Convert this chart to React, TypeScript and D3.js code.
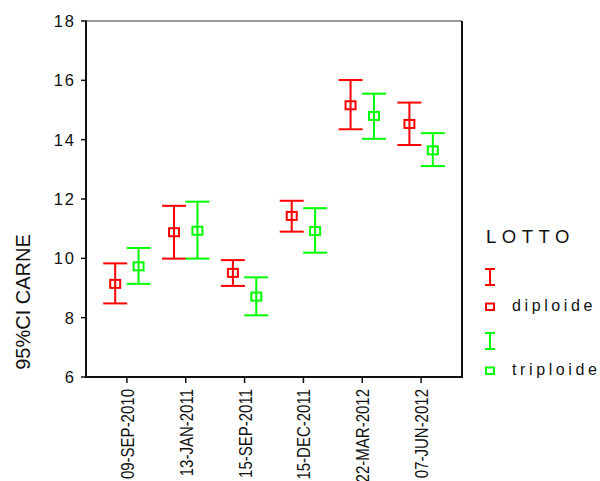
import React from "react";
import * as d3 from "d3";

const categories = ["09-SEP-2010", "13-JAN-2011", "15-SEP-2011", "15-DEC-2011", "22-MAR-2012", "07-JUN-2012"];
const seriesNames = ["diploide", "triploide"];
const seriesColors = ["#ff0000", "#00ff00"];
const diploideMean = [9.14, 10.88, 9.51, 11.43, 15.16, 14.53];
const diploideLow = [8.48, 9.99, 9.07, 10.9, 14.35, 13.82];
const diploideHigh = [9.83, 11.77, 9.94, 11.94, 16.01, 15.25];
const triploideMean = [9.73, 10.93, 8.71, 10.92, 14.8, 13.64];
const triploideLow = [9.14, 9.99, 8.08, 10.19, 14.03, 13.11];
const triploideHigh = [10.35, 11.91, 9.36, 11.69, 15.55, 14.22];
const yTicks = [6, 8, 10, 12, 14, 16, 18];
const yTitle = "95%CI CARNE";
const legendTitle = "LOTTO";

const FONT = "'Liberation Sans', Arial, sans-serif";

export default function App() {
  const left = 86, right = 462, top = 21, bottom = 377;
  const x = d3.scalePoint<string>().domain(categories).range([left, right]).padding(0.695);
  const off = d3.scalePoint<string>().domain(seriesNames).range([-11.7, 11.7]);
  const y = d3.scaleLinear().domain([6, 18]).range([bottom, top]);

  const series = [
    { name: "diploide", mean: diploideMean, low: diploideLow, high: diploideHigh, color: seriesColors[0] },
    { name: "triploide", mean: triploideMean, low: triploideLow, high: triploideHigh, color: seriesColors[1] },
  ];
  const capW = 12;
  const sqW = 10, sqH = 8;

  return (
    <svg width={600} height={481} style={{ position: "absolute", left: 0, top: 0, background: "#fff" }}>
      <rect x={0} y={0} width={600} height={481} fill="#fff" />
      {/* frame */}
      <line x1={left} x2={right} y1={top} y2={top} stroke="#333" strokeWidth={1.2} />
      <line x1={right} x2={right} y1={top} y2={bottom} stroke="#111" strokeWidth={2} />
      <line x1={left} x2={left} y1={top - 0.5} y2={bottom + 1} stroke="#111" strokeWidth={2} />
      <line x1={left} x2={right + 1} y1={bottom} y2={bottom} stroke="#111" strokeWidth={2} />
      {/* y ticks */}
      {yTicks.map((t) => (
        <g key={t}>
          <line x1={left - 5} x2={left} y1={y(t)} y2={y(t)} stroke="#111" strokeWidth={1.5} />
          <text x={left - 10} y={y(t)} dy="0.36em" textAnchor="end" fontFamily={FONT} fontSize={16.5} letterSpacing={2} fill="#111">
            {t}
          </text>
        </g>
      ))}
      {/* x ticks */}
      {categories.map((c) => (
        <g key={c}>
          <line x1={x(c)} x2={x(c)} y1={bottom} y2={bottom + 6} stroke="#111" strokeWidth={1.5} />
          <text
            transform={`translate(${(x(c) as number) + 7},${389}) rotate(-90) scale(0.79,1)`}
            textAnchor="end"
            fontFamily={FONT}
            fontSize={19}
            fill="#111"
          >
            {c}
          </text>
        </g>
      ))}
      {/* y title */}
      <text
        transform={`translate(${30},${302}) rotate(-90)`}
        textAnchor="middle"
        fontFamily={FONT}
        fontSize={20}
        fill="#111"
      >
        {yTitle}
      </text>
      {/* error bars */}
      {series.map((s) =>
        categories.map((c, i) => {
          const cx = (x(c) as number) + (off(s.name) as number);
          return (
            <g key={s.name + c} stroke={s.color} strokeWidth={2} fill="none">
              <line x1={cx} x2={cx} y1={y(s.high[i])} y2={y(s.low[i])} />
              <line x1={cx - capW} x2={cx + capW} y1={y(s.high[i])} y2={y(s.high[i])} />
              <line x1={cx - capW} x2={cx + capW} y1={y(s.low[i])} y2={y(s.low[i])} />
              <rect x={cx - sqW / 2} y={y(s.mean[i]) - sqH / 2} width={sqW} height={sqH} />
            </g>
          );
        })
      )}
      {/* legend */}
      <text x={486} y={243} fontFamily={FONT} fontSize={18.5} letterSpacing={5.5} fill="#111">
        {legendTitle}
      </text>
      {series.map((s, k) => {
        const by = 269 + k * 64;
        return (
          <g key={s.name}>
            <g stroke={s.color} strokeWidth={2} fill="none">
              <line x1={490} x2={490} y1={by} y2={by + 16} />
              <line x1={485} x2={495} y1={by} y2={by} />
              <line x1={485} x2={495} y1={by + 16} y2={by + 16} />
              <rect x={486} y={by + 34.5} width={8} height={6.5} />
            </g>
            <text x={512} y={by + 42} fontFamily={FONT} fontSize={16} letterSpacing={3.6} fill="#111">
              {s.name}
            </text>
          </g>
        );
      })}
    </svg>
  );
}
